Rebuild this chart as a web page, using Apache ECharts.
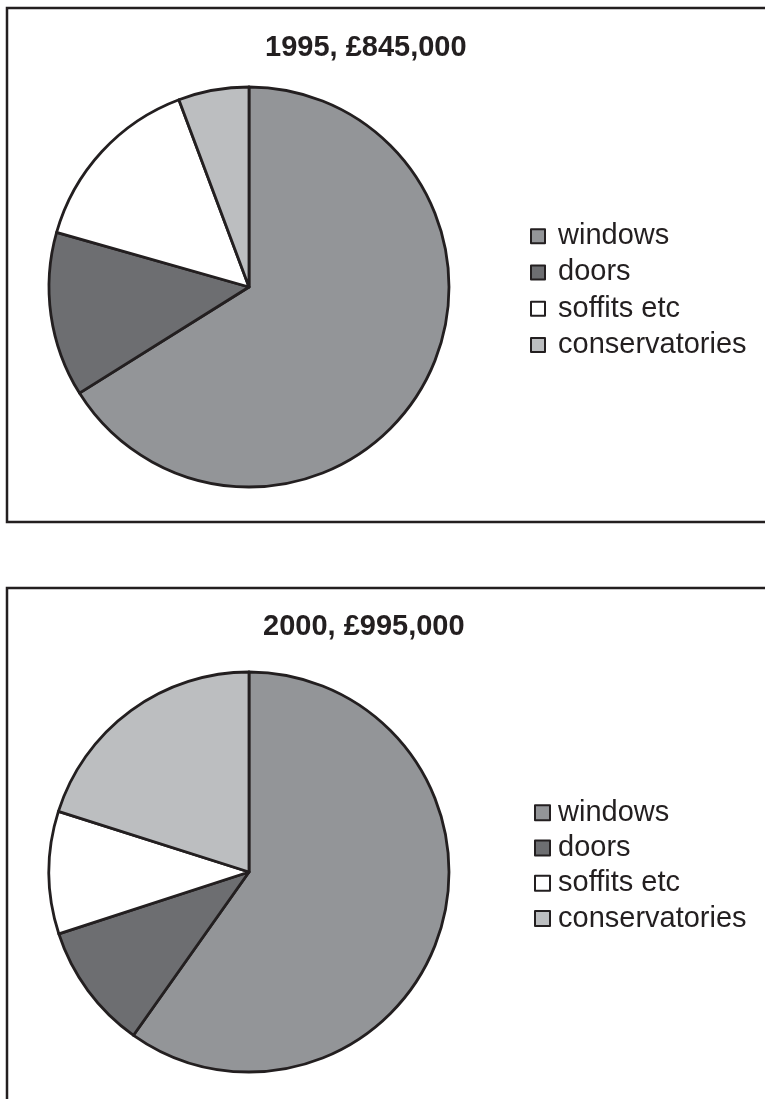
<!DOCTYPE html>
<html>
<head>
<meta charset="utf-8">
<script src="https://cdn.jsdelivr.net/npm/echarts@6/dist/echarts.min.js"></script>
<style>
html,body{margin:0;padding:0;background:#fff;}
#chart{width:765px;height:1099px;}
</style>
</head>
<body>
<div id="chart"></div>
<script>
const categories = ['windows', 'doors', 'soffits etc', 'conservatories'];
const colors = ['#939598', '#6d6e71', '#ffffff', '#bcbec0'];
const title1995 = '1995, £845,000';
const title2000 = '2000, £995,000';
const values1995 = [66.1, 13.3, 14.9, 5.7];
const values2000 = [59.8, 10.2, 9.9, 20.1];

const INK = '#231f20';
const FONT = '"Liberation Sans", Arial, Helvetica, sans-serif';

function pieData(vals) {
  return categories.map((c, i) => ({ name: c, value: vals[i], itemStyle: { color: colors[i] } }));
}
function pieSeries(vals, cy) {
  return {
    type: 'pie',
    center: [249, cy],
    radius: 200,
    startAngle: 90,
    clockwise: true,
    avoidLabelOverlap: false,
    label: { show: false },
    labelLine: { show: false },
    emphasis: { disabled: true },
    itemStyle: { borderColor: INK, borderWidth: 2.8 },
    data: pieData(vals)
  };
}
function legend(left, top, size, gap, lh) {
  return {
    orient: 'vertical',
    left: left,
    top: top,
    padding: 0,
    itemGap: 0,
    itemWidth: size,
    itemHeight: size,
    icon: 'rect',
    selectedMode: false,
    data: categories,
    itemStyle: { borderColor: INK, borderWidth: 2 },
    textStyle: { fontFamily: FONT, fontSize: 29, color: INK, lineHeight: lh, padding: [0, 0, 0, gap] }
  };
}

const chart = echarts.init(document.getElementById('chart'), null, { renderer: 'canvas' });
chart.setOption({
  animation: false,
  backgroundColor: '#ffffff',
  color: colors,
  title: [
    { text: title1995, left: 265, top: 33, padding: 0,
      textStyle: { fontFamily: FONT, fontSize: 29, fontWeight: 'bold', color: INK } },
    { text: title2000, left: 263, top: 612, padding: 0,
      textStyle: { fontFamily: FONT, fontSize: 29, fontWeight: 'bold', color: INK } }
  ],
  legend: [ legend(530, 218, 14, 8, 36.3), legend(534, 795, 15, 3, 35.3) ],
  graphic: [
    { type: 'polyline', silent: true, z: -1,
      shape: { points: [[800, 8], [7, 8], [7, 522], [800, 522]] },
      style: { stroke: INK, lineWidth: 2.5, fill: null } },
    { type: 'polyline', silent: true, z: -1,
      shape: { points: [[800, 588], [7, 588], [7, 1110]] },
      style: { stroke: INK, lineWidth: 2.5, fill: null } }
  ],
  series: [ pieSeries(values1995, 287), pieSeries(values2000, 872) ]
});
</script>
</body>
</html>
